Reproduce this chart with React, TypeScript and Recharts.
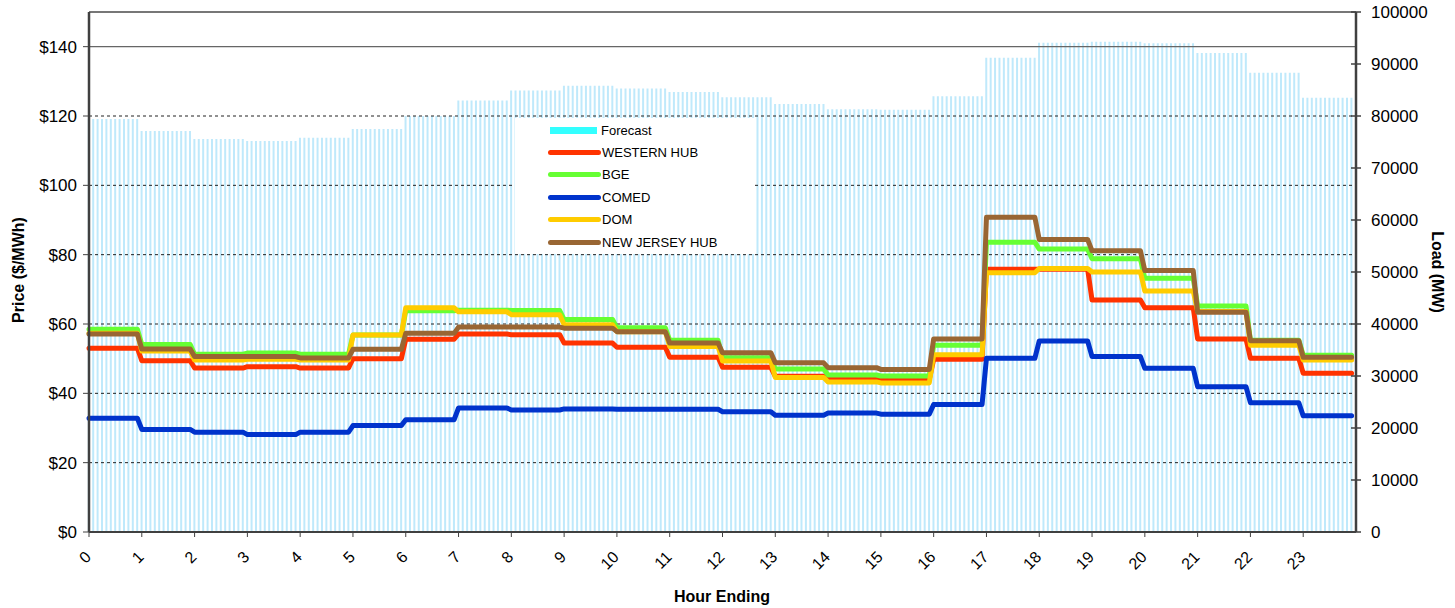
import React from 'react';
import { ComposedChart, XAxis, YAxis, Bar, Line, Legend, ReferenceLine } from 'recharts';

// hourly values (hour ending 1..24, drawn from 0..23)
const hourTicks = [0, 1, 2, 3, 4, 5, 6, 7, 8, 9, 10, 11, 12, 13, 14, 15, 16, 17, 18, 19, 20, 21, 22, 23];
const priceTicks = [0, 20, 40, 60, 80, 100, 120, 140];
const loadTicks = [0, 10000, 20000, 30000, 40000, 50000, 60000, 70000, 80000, 90000, 100000];
const dashedGrid = [20, 40, 60, 80, 100, 120];

const forecastLoad = [79400, 77100, 75600, 75200, 75800, 77500, 80000, 83000, 84900, 85800, 85300, 84600,
  83600, 82300, 81300, 81200, 83800, 91200, 94100, 94300, 94000, 92100, 88300, 83500];
const westernHub = [53.0, 49.4, 47.3, 47.7, 47.3, 50.0, 55.6, 57.1, 56.9, 54.5, 53.3, 50.4,
  47.5, 44.9, 44.2, 44.0, 49.8, 75.8, 75.8, 66.9, 64.7, 55.7, 50.1, 45.8];
const bge = [58.5, 54.1, 51.3, 51.6, 51.3, 56.8, 63.8, 64.0, 63.9, 61.3, 58.9, 55.3,
  50.3, 47.0, 45.3, 45.0, 53.9, 83.6, 81.6, 78.8, 73.2, 65.2, 55.3, 51.0];
const comed = [32.8, 29.6, 28.8, 28.1, 28.8, 30.7, 32.4, 35.8, 35.2, 35.5, 35.4, 35.4,
  34.7, 33.7, 34.3, 34.0, 36.8, 50.1, 55.1, 50.6, 47.2, 41.9, 37.3, 33.5];
const dom = [57.3, 52.2, 49.6, 49.8, 49.6, 56.8, 64.7, 63.5, 62.7, 59.8, 57.8, 53.5,
  49.3, 44.6, 43.3, 43.0, 51.1, 74.8, 76.0, 75.0, 69.5, 63.6, 53.9, 49.6];
const njHub = [57.1, 52.8, 50.6, 50.6, 50.2, 52.7, 57.3, 59.1, 59.1, 58.8, 57.8, 54.5,
  51.7, 48.8, 47.4, 46.9, 55.7, 90.8, 84.4, 81.1, 75.4, 63.4, 55.2, 50.4];

const series = [
  { key: 'western', name: 'WESTERN HUB', color: '#ff3300', values: westernHub },
  { key: 'bge', name: 'BGE', color: '#66ff33', values: bge },
  { key: 'comed', name: 'COMED', color: '#0033cc', values: comed },
  { key: 'dom', name: 'DOM', color: '#ffcc00', values: dom },
  { key: 'nj', name: 'NEW JERSEY HUB', color: '#996633', values: njHub },
];

// the chart is sampled every 5 minutes, so each hourly value repeats 12 times
const STEPS = 12;
const data: any[] = [];
hourTicks.forEach((h) => {
  for (let s = 0; s < STEPS; s++) {
    const row: any = { x: h + s / STEPS, load: forecastLoad[h] };
    series.forEach((sr) => { row[sr.key] = sr.values[h]; });
    data.push(row);
  }
});

const FONT = "'Liberation Sans', Arial, sans-serif";

const HourTick = ({ x, y, payload }: any) => (
  <g transform={`translate(${x - 1},${y + 13})`}>
    <text x={0} y={0} dy="0.35em" textAnchor="end" transform="rotate(-45)" fontFamily={FONT} fontSize={16} fill="#000">
      {payload.value}
    </text>
  </g>
);

const PriceTick = ({ x, y, payload }: any) => (
  <text x={x} y={y} dy="0.35em" textAnchor="end" fontFamily={FONT} fontSize={17} fill="#000">
    ${payload.value}
  </text>
);

const LoadTick = ({ x, y, payload }: any) => (
  <g>
    <line x1={x - 20} y1={y} x2={x - 10} y2={y} stroke="#404040" strokeWidth={1.5} />
    <text x={x} y={y} dy="0.35em" textAnchor="start" fontFamily={FONT} fontSize={17} fill="#000">
      {payload.value}
    </text>
  </g>
);

const Title = ({ x, y, angle, text }: any) => (
  <text x={x} y={y} transform={`rotate(${angle} ${x} ${y})`} textAnchor="middle" dominantBaseline="central"
    fontFamily={FONT} fontWeight="bold" fontSize={16} fill="#000">
    {text}
  </text>
);

const LegendBox = () => (
  <div style={{ background: '#fff', width: 240, height: 136, fontFamily: FONT, fontSize: 13, paddingTop: 1, boxSizing: 'border-box' }}>
    <div style={{ display: 'flex', alignItems: 'center', height: 22.4 }}>
      <div style={{ marginLeft: 35, width: 47, height: 7, background: '#33ffff' }} />
      <span style={{ marginLeft: 4 }}>Forecast</span>
    </div>
    {series.map((s) => (
      <div key={s.key} style={{ display: 'flex', alignItems: 'center', height: 22.4 }}>
        <div style={{ marginLeft: 33, width: 53, height: 5, borderRadius: 3, background: s.color }} />
        <span style={{ marginLeft: 1 }}>{s.name}</span>
      </div>
    ))}
  </div>
);

export default function App() {
  return (
    <div style={{ position: 'absolute', left: 0, top: 0, width: 1455, height: 608, background: '#fff' }}>
      <ComposedChart width={1455} height={608} data={data} margin={{ top: 12, right: 0, bottom: 0, left: 0 }}>
        <XAxis
          dataKey="x"
          type="number"
          domain={[0, 24]}
          ticks={hourTicks}
          interval={0}
          height={76}
          tickSize={5}
          tickMargin={4}
          tick={<HourTick />}
          axisLine={{ stroke: '#404040', strokeWidth: 2 }}
          tickLine={{ stroke: '#404040' }}
          label={{ content: () => <Title x={722} y={596} angle={0} text="Hour Ending" /> }}
        />
        <YAxis
          yAxisId="left"
          domain={[0, 150]}
          ticks={priceTicks}
          interval={0}
          width={89}
          tickSize={6}
          tickMargin={6}
          tick={<PriceTick />}
          axisLine={{ stroke: '#404040', strokeWidth: 2.5 }}
          tickLine={{ stroke: '#404040' }}
          label={{ content: () => <Title x={18} y={270} angle={-90} text="Price ($/MWh)" /> }}
        />
        <YAxis
          yAxisId="right"
          orientation="right"
          domain={[0, 100000]}
          ticks={loadTicks}
          interval={0}
          width={99}
          tickSize={5}
          tickMargin={10}
          tickLine={false}
          tick={<LoadTick />}
          axisLine={{ stroke: '#404040', strokeWidth: 2.5 }}
          label={{ content: () => <Title x={1437} y={272} angle={90} text="Load (MW)" /> }}
        />
        <Bar yAxisId="right" dataKey="load" name="Forecast" barSize={2} fill="#bfe9fb" isAnimationActive={false} />
        {dashedGrid.map((v) => (
          <ReferenceLine key={v} yAxisId="left" y={v} stroke="#222" strokeDasharray="3 3" />
        ))}
        <ReferenceLine yAxisId="left" y={140} stroke="#666" strokeWidth={1.2} />
        <ReferenceLine yAxisId="left" y={150} stroke="#777" strokeWidth={2} />
        {series.map((s) => (
          <Line
            key={s.key}
            yAxisId="left"
            type="linear"
            dataKey={s.key}
            name={s.name}
            stroke={s.color}
            strokeWidth={5}
            strokeLinejoin="round"
            strokeLinecap="round"
            dot={false}
            isAnimationActive={false}
          />
        ))}
        <Legend
          content={<LegendBox />}
          layout="vertical"
          verticalAlign="middle"
          align="center"
          wrapperStyle={{ position: 'absolute', left: 515, top: 118, width: 240, height: 136 }}
        />
      </ComposedChart>
    </div>
  );
}
